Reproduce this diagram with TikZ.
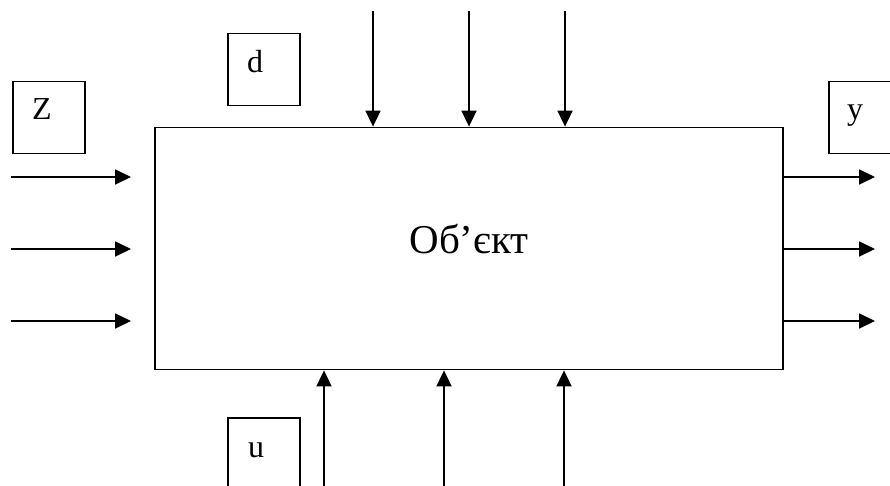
\documentclass[tikz,border=0pt]{standalone}
\usepackage{fontspec}
\setmainfont{Liberation Serif}
\usetikzlibrary{arrows.meta,calc}

\tikzset{
  conn/.style={line width=1.8pt, -{Triangle[length=16pt,width=15pt]}},
  objbox/.style={draw, line width=1.8pt, minimum width=628pt, minimum height=242pt,
                 inner sep=0pt, text depth=19pt, font=\fontsize{41}{48}\selectfont},
  labelbox/.style={draw, line width=1.5pt, minimum width=72pt, minimum height=72pt,
                   inner sep=0pt, anchor=north west},
  labeltext/.style={anchor=base west, inner sep=0pt, font=\fontsize{32}{38}\selectfont}
}

\begin{document}
\begin{tikzpicture}[x=1pt, y=-1pt]
  \clip (0,0) rectangle (890,486);

  % the controlled object
  \node[objbox] (obj) at (469,248.5) {Об’єкт};

  % signal-group labels
  \node[labelbox] (zbox) at (12,81) {};
  \node[labeltext] (zlab) at ($(zbox.north west)+(20,39)$) {Z};
  \node[labelbox] (dbox) at (227,33) {};
  \node[labeltext] (dlab) at ($(dbox.north west)+(20,40)$) {d};
  \node[labelbox] (ubox) at (227,417) {};
  \node[labeltext] (ulab) at ($(ubox.north west)+(21,40)$) {u};
  \node[labelbox, minimum width=90pt] (ybox) at (828,81) {};
  \node[labeltext] (ylab) at ($(ybox.north west)+(19,39)$) {y};

  % inputs Z (left)
  \foreach \i/\yy in {1/177, 2/249, 3/321} {
    \coordinate (zs\i) at (11,\yy);
    \coordinate (ze\i) at (131,\yy);
    \draw[conn] (zs\i) -- (ze\i);
  }

  % disturbances d (top)
  \foreach \i/\xx in {1/373, 2/469, 3/565} {
    \coordinate (ds\i) at (\xx,11);
    \draw[conn] (ds\i) -- (ds\i |- obj.north);
  }

  % controls u (bottom)
  \foreach \i/\xx in {1/324, 2/444, 3/564} {
    \coordinate (us\i) at (\xx,486);
    \draw[conn] (us\i) -- (us\i |- obj.south);
  }

  % outputs y (right)
  \foreach \i/\yy in {1/177, 2/249, 3/321} {
    \coordinate (ye\i) at (875,\yy);
    \draw[conn] (ye\i -| obj.east) -- (ye\i);
  }
\end{tikzpicture}
\end{document}
